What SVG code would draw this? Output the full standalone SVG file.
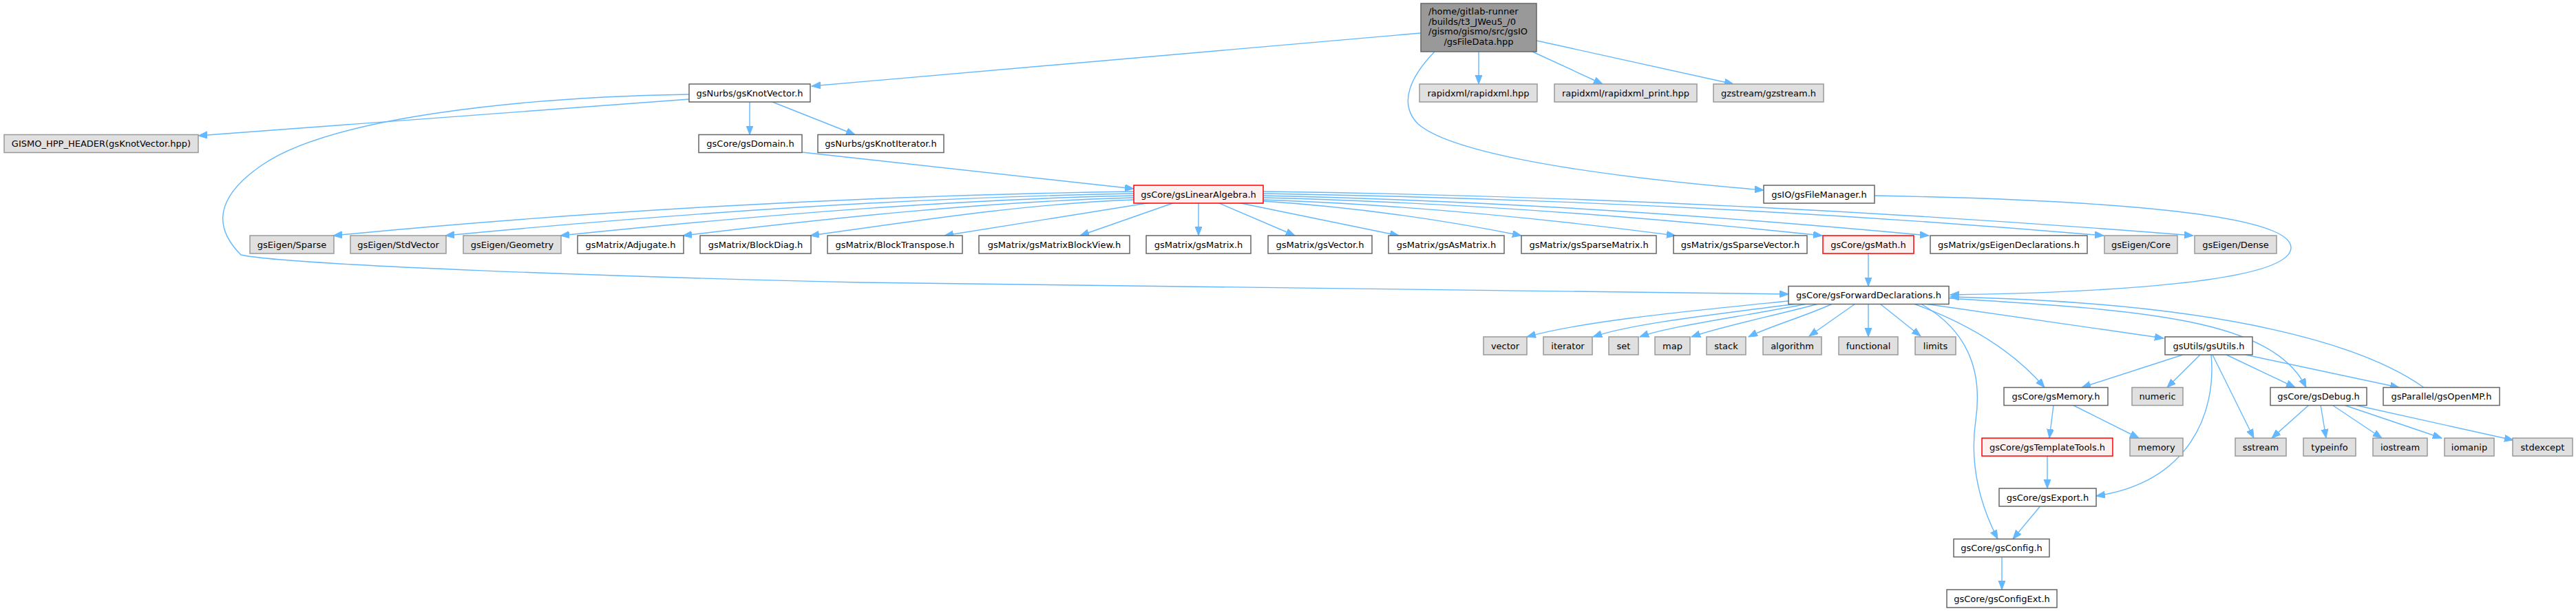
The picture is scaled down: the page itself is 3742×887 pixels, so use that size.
<svg xmlns="http://www.w3.org/2000/svg" width="3742" height="887" viewBox="0 0 3742 887">
<style>
text{font-family:"DejaVu Sans","Liberation Sans",sans-serif;font-size:13px;fill:#000;text-anchor:middle}
text.l{text-anchor:start}
.w{fill:#fff;stroke:#666;stroke-width:1.5}
.g{fill:#e0e0e0;stroke:#999;stroke-width:1.5}
.r{fill:#fff0f0;stroke:#f00;stroke-width:1.5}
.top{fill:#999;stroke:#666;stroke-width:1.5}
#edges path{fill:none;stroke:#63b8ff;stroke-width:1.4;marker-end:url(#ah)}
</style>
<defs>
<marker id="ah" markerUnits="userSpaceOnUse" markerWidth="14" markerHeight="11" refX="13" refY="5" orient="auto">
<path d="M0,0 L13,5 L0,10 z" fill="#63b8ff" stroke="#63b8ff" stroke-width="1"/>
</marker>
</defs>
<rect width="3742" height="887" fill="#fff"/>
<g id="edges">
<path d="M2064,48 L1179,125"/>
<path d="M2148,75 L2148,122"/>
<path d="M2226,75 L2328,122"/>
<path d="M2232,59 L2518,122"/>
<path d="M2084,75 C2050,110 2030,150 2060,180 C2100,215 2250,250 2562,276"/>
<path d="M1001,144 L288,197"/>
<path d="M1001,137 C760,141 480,170 380,240 C300,295 320,340 350,370 C420,385 900,402 1250,410 L2598,427"/>
<path d="M1089,148 L1089,195.5"/>
<path d="M1122,148 L1242,195.5"/>
<path d="M1165,221 L1647,274"/>
<path d="M1647,278 C1241,284 836,308 484,342"/>
<path d="M1647,281 C1304,287 960,312 647,342"/>
<path d="M1647,284 C1363,290 1080,315 814,342"/>
<path d="M1647,287 C1425,293 1205,317 992,342"/>
<path d="M1647,290 C1490,296 1335,320 1177,342"/>
<path d="M1669,294.5 L1372,342"/>
<path d="M1705,294.5 L1569,342"/>
<path d="M1741,294.5 L1741,342"/>
<path d="M1770,294.5 L1881,342"/>
<path d="M1800,294.5 L2032,342"/>
<path d="M1835,292 C1960,300 2090,318 2210,342"/>
<path d="M1835,290 C2040,297 2250,318 2434,342"/>
<path d="M1835,287 C2120,294 2400,316 2647,342"/>
<path d="M1835,284 C2170,291 2500,314 2802,342"/>
<path d="M1835,281 C2260,288 2680,310 3056,342"/>
<path d="M1835,278 C2308,284 2781,310 3186,342"/>
<path d="M2714,368 L2714,415.5"/>
<path d="M2723,284 C3050,290 3330,310 3328,360 C3326,410 3050,425 2833,428"/>
<path d="M2598,437 C2450,452 2300,466 2218,489"/>
<path d="M2610,441 C2480,458 2370,470 2314,489"/>
<path d="M2625,441 C2530,460 2430,472 2382,489"/>
<path d="M2642,441 C2570,460 2500,474 2457,489"/>
<path d="M2662,441 C2620,460 2570,474 2540,489"/>
<path d="M2695,441 L2628,488"/>
<path d="M2714,441 L2714,489"/>
<path d="M2731,441 L2790,488"/>
<path d="M2796,441 L3143,491"/>
<path d="M2780,441 C2860,470 2925,510 2970,562.5"/>
<path d="M2790,441 C2860,480 2880,540 2870,610 C2860,680 2880,740 2902,782.5"/>
<path d="M2831,433 C3100,450 3300,460 3350,562.5"/>
<path d="M3521,562.5 C3440,505 3250,440 2833,431"/>
<path d="M3171,515 L3024,562.5"/>
<path d="M3196,515 L3148,562.5"/>
<path d="M3234,515 L3334,562.5"/>
<path d="M3262,515 L3485,562.5"/>
<path d="M3214,515 L3274,636"/>
<path d="M3212,515 C3220,600 3180,700 3045,720"/>
<path d="M2983,588 L2977,636"/>
<path d="M3011,588 L3107,636"/>
<path d="M3354,588 L3300,636"/>
<path d="M3371,588 L3379,636"/>
<path d="M3388,588 L3460,636"/>
<path d="M3405,588 L3547,636"/>
<path d="M3421,588 L3651,639"/>
<path d="M2974,661 L2974,709"/>
<path d="M2964,734.5 L2924,782.5"/>
<path d="M2908,808 L2908,856"/>
</g>
<g id="n_filedata"><rect class="top" x="2064" y="5" width="168" height="70"/><text class="l" x="2075" y="21">/home/gitlab-runner</text><text class="l" x="2075" y="35.5">/builds/t3_JWeu5_/0</text><text class="l" x="2075" y="50">/gismo/gismo/src/gsIO</text><text x="2148" y="64.5">/gsFileData.hpp</text></g>
<g id="n_knotvector"><rect class="w" x="1001" y="122" width="176" height="26"/><text x="1089" y="139.5">gsNurbs/gsKnotVector.h</text></g>
<g id="n_rapidxml"><rect class="g" x="2062" y="122" width="171" height="26"/><text x="2147.5" y="139.5">rapidxml/rapidxml.hpp</text></g>
<g id="n_rapidxml_print"><rect class="g" x="2258" y="122" width="207" height="26"/><text x="2361.5" y="139.5">rapidxml/rapidxml_print.hpp</text></g>
<g id="n_gzstream"><rect class="g" x="2489" y="122" width="160" height="26"/><text x="2569" y="139.5">gzstream/gzstream.h</text></g>
<g id="n_gismo_hpp"><rect class="g" x="6" y="195.5" width="282" height="26"/><text x="147" y="213">GISMO_HPP_HEADER(gsKnotVector.hpp)</text></g>
<g id="n_domain"><rect class="w" x="1015" y="195.5" width="150" height="26"/><text x="1090" y="213">gsCore/gsDomain.h</text></g>
<g id="n_knotiterator"><rect class="w" x="1188" y="195.5" width="183" height="26"/><text x="1279.5" y="213">gsNurbs/gsKnotIterator.h</text></g>
<g id="n_linalg"><rect class="r" x="1647" y="269" width="188" height="26"/><text x="1741" y="286.5">gsCore/gsLinearAlgebra.h</text></g>
<g id="n_filemanager"><rect class="w" x="2562" y="269" width="161" height="26"/><text x="2642.5" y="286.5">gsIO/gsFileManager.h</text></g>
<g id="n_sparse"><rect class="g" x="363" y="342" width="122" height="26"/><text x="424" y="359.5">gsEigen/Sparse</text></g>
<g id="n_stdvector"><rect class="g" x="509" y="342" width="139" height="26"/><text x="578.5" y="359.5">gsEigen/StdVector</text></g>
<g id="n_geometry"><rect class="g" x="673" y="342" width="142" height="26"/><text x="744" y="359.5">gsEigen/Geometry</text></g>
<g id="n_adjugate"><rect class="w" x="839" y="342" width="154" height="26"/><text x="916" y="359.5">gsMatrix/Adjugate.h</text></g>
<g id="n_blockdiag"><rect class="w" x="1017" y="342" width="161" height="26"/><text x="1097.5" y="359.5">gsMatrix/BlockDiag.h</text></g>
<g id="n_blocktranspose"><rect class="w" x="1202" y="342" width="196" height="26"/><text x="1300" y="359.5">gsMatrix/BlockTranspose.h</text></g>
<g id="n_blockview"><rect class="w" x="1422" y="342" width="219" height="26"/><text x="1531.5" y="359.5">gsMatrix/gsMatrixBlockView.h</text></g>
<g id="n_gsmatrix"><rect class="w" x="1665" y="342" width="152" height="26"/><text x="1741" y="359.5">gsMatrix/gsMatrix.h</text></g>
<g id="n_gsvector"><rect class="w" x="1842" y="342" width="151" height="26"/><text x="1917.5" y="359.5">gsMatrix/gsVector.h</text></g>
<g id="n_asmatrix"><rect class="w" x="2017" y="342" width="168" height="26"/><text x="2101" y="359.5">gsMatrix/gsAsMatrix.h</text></g>
<g id="n_sparsematrix"><rect class="w" x="2210" y="342" width="196" height="26"/><text x="2308" y="359.5">gsMatrix/gsSparseMatrix.h</text></g>
<g id="n_sparsevector"><rect class="w" x="2431" y="342" width="194" height="26"/><text x="2528" y="359.5">gsMatrix/gsSparseVector.h</text></g>
<g id="n_math"><rect class="r" x="2648" y="342" width="132" height="26"/><text x="2714" y="359.5">gsCore/gsMath.h</text></g>
<g id="n_eigendecl"><rect class="w" x="2804" y="342" width="228" height="26"/><text x="2918" y="359.5">gsMatrix/gsEigenDeclarations.h</text></g>
<g id="n_core"><rect class="g" x="3057" y="342" width="106" height="26"/><text x="3110" y="359.5">gsEigen/Core</text></g>
<g id="n_dense"><rect class="g" x="3188" y="342" width="119" height="26"/><text x="3247.5" y="359.5">gsEigen/Dense</text></g>
<g id="n_fwd"><rect class="w" x="2598" y="415.5" width="233" height="26"/><text x="2714.5" y="433">gsCore/gsForwardDeclarations.h</text></g>
<g id="n_vector"><rect class="g" x="2155" y="489" width="63" height="26"/><text x="2186.5" y="506.5">vector</text></g>
<g id="n_iterator"><rect class="g" x="2242" y="489" width="71" height="26"/><text x="2277.5" y="506.5">iterator</text></g>
<g id="n_set"><rect class="g" x="2337" y="489" width="43" height="26"/><text x="2358.5" y="506.5">set</text></g>
<g id="n_map"><rect class="g" x="2404" y="489" width="51" height="26"/><text x="2429.5" y="506.5">map</text></g>
<g id="n_stack"><rect class="g" x="2479" y="489" width="57" height="26"/><text x="2507.5" y="506.5">stack</text></g>
<g id="n_algorithm"><rect class="g" x="2561" y="489" width="85" height="26"/><text x="2603.5" y="506.5">algorithm</text></g>
<g id="n_functional"><rect class="g" x="2671" y="489" width="86" height="26"/><text x="2714" y="506.5">functional</text></g>
<g id="n_limits"><rect class="g" x="2782" y="489" width="59" height="26"/><text x="2811.5" y="506.5">limits</text></g>
<g id="n_utils"><rect class="w" x="3145" y="489" width="127" height="26"/><text x="3208.5" y="506.5">gsUtils/gsUtils.h</text></g>
<g id="n_memory_h"><rect class="w" x="2911" y="562.5" width="151" height="26"/><text x="2986.5" y="580">gsCore/gsMemory.h</text></g>
<g id="n_numeric"><rect class="g" x="3097" y="562.5" width="74" height="26"/><text x="3134" y="580">numeric</text></g>
<g id="n_debug"><rect class="w" x="3298" y="562.5" width="140" height="26"/><text x="3368" y="580">gsCore/gsDebug.h</text></g>
<g id="n_openmp"><rect class="w" x="3462" y="562.5" width="169" height="26"/><text x="3546.5" y="580">gsParallel/gsOpenMP.h</text></g>
<g id="n_templatetools"><rect class="r" x="2879" y="636" width="190" height="26"/><text x="2974" y="653.5">gsCore/gsTemplateTools.h</text></g>
<g id="n_memory"><rect class="g" x="3094" y="636" width="77" height="26"/><text x="3132.5" y="653.5">memory</text></g>
<g id="n_sstream"><rect class="g" x="3247" y="636" width="74" height="26"/><text x="3284" y="653.5">sstream</text></g>
<g id="n_typeinfo"><rect class="g" x="3346" y="636" width="76" height="26"/><text x="3384" y="653.5">typeinfo</text></g>
<g id="n_iostream"><rect class="g" x="3447" y="636" width="79" height="26"/><text x="3486.5" y="653.5">iostream</text></g>
<g id="n_iomanip"><rect class="g" x="3551" y="636" width="72" height="26"/><text x="3587" y="653.5">iomanip</text></g>
<g id="n_stdexcept"><rect class="g" x="3650" y="636" width="87" height="26"/><text x="3693.5" y="653.5">stdexcept</text></g>
<g id="n_export"><rect class="w" x="2904" y="709" width="141" height="26"/><text x="2974.5" y="726.5">gsCore/gsExport.h</text></g>
<g id="n_config"><rect class="w" x="2838" y="782.5" width="139" height="26"/><text x="2907.5" y="800">gsCore/gsConfig.h</text></g>
<g id="n_configext"><rect class="w" x="2828" y="856" width="160" height="26"/><text x="2908" y="873.5">gsCore/gsConfigExt.h</text></g>
</svg>
